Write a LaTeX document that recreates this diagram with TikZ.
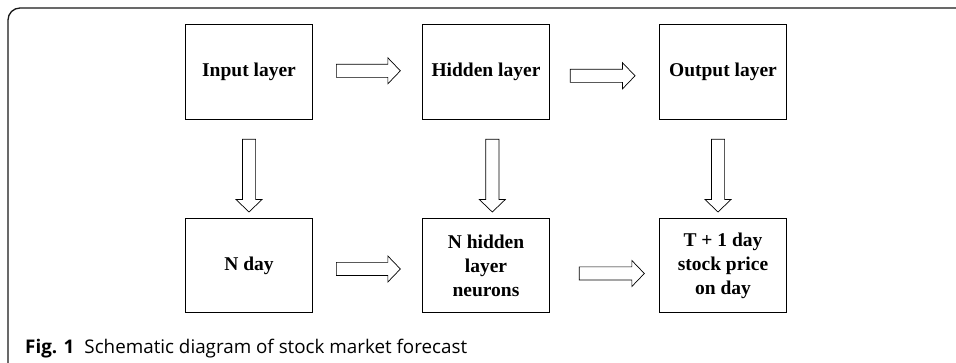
\documentclass[tikz,border=0pt]{standalone}
\usepackage{fontspec}
\setmainfont{Liberation Serif}
\newfontfamily\capfont{Open Sans}
\usepackage{tikz}
\usetikzlibrary{calc,positioning}

\begin{document}
\begin{tikzpicture}[x=1pt,y=-1pt,
	box/.style={draw, line width=0.7pt, minimum width=126.6pt, minimum height=94.3pt, inner sep=0pt, align=center, font=\fontsize{19.5}{24}\selectfont\bfseries},
	fat/.style={line width=0.7pt, line join=miter, to path={let \p1=(\tikztostart), \p2=(\tikztotarget), \n1={atan2(\y2-\y1,\x2-\x1)}, \n2={veclen(\x2-\x1,\y2-\y1)} in
		($(\p1)+(\n1+90:6.6pt)$) -- ($(\p2)+(\n1+180:12.5pt)+(\n1+90:6.6pt)$) -- ($(\p2)+(\n1+180:12.5pt)+(\n1+90:13pt)$) -- (\p2)
		-- ($(\p2)+(\n1+180:12.5pt)+(\n1-90:13pt)$) -- ($(\p2)+(\n1+180:12.5pt)+(\n1-90:6.6pt)$) -- ($(\p1)+(\n1-90:6.6pt)$) -- cycle}}]
	\clip (0,0) rectangle (956,363);
	\draw[line width=1.3pt, black!90, rounded corners=12pt] (960,8) -- (8,8) -- (8,375) -- (40,375);

	\node[box] (inp) at (249,71.8) {Input layer};
	\node[box, right=109.7pt of inp] (hid) {Hidden layer};
	\node[box, right=109.7pt of hid] (out) {Output layer};
	\node[box, below=98.7pt of inp] (nday) {N day};
	\node[box, below=98.7pt of hid] (nhid) {N hidden\\layer\\neurons};
	\node[box, below=98.7pt of out] (price) {T + 1 day\\stock price\\on day};

	\draw[fat] ([xshift=23.7pt,yshift=1pt]inp.east) to ([xshift=-22pt,yshift=1pt]hid.west);
	\draw[fat] ([xshift=20.6pt,yshift=-4pt]hid.east) to ([xshift=-24.3pt,yshift=-4pt]out.west);
	\draw[fat] ([xshift=23.7pt,yshift=-3.5pt]nday.east) to ([xshift=-22pt,yshift=-3.5pt]nhid.west);
	\draw[fat] ([xshift=29.6pt,yshift=-8pt]nhid.east) to ([xshift=-15pt,yshift=-8pt]price.west);
	\draw[fat] ([yshift=-20pt]inp.south) to ([yshift=6pt]nday.north);
	\draw[fat] ([xshift=6.3pt,yshift=-20pt]hid.south) to ([xshift=6.3pt,yshift=6pt]nhid.north);
	\draw[fat] ([xshift=-5pt,yshift=-20pt]out.south) to ([xshift=-5pt,yshift=6pt]price.north);

	\node[anchor=base west, inner sep=0pt, font=\capfont\fontsize{18.8}{22}\selectfont] (cap) at (25,353.3) {\textbf{Fig. 1}\hspace{10pt}Schematic diagram of stock market forecast};
\end{tikzpicture}
\end{document}
